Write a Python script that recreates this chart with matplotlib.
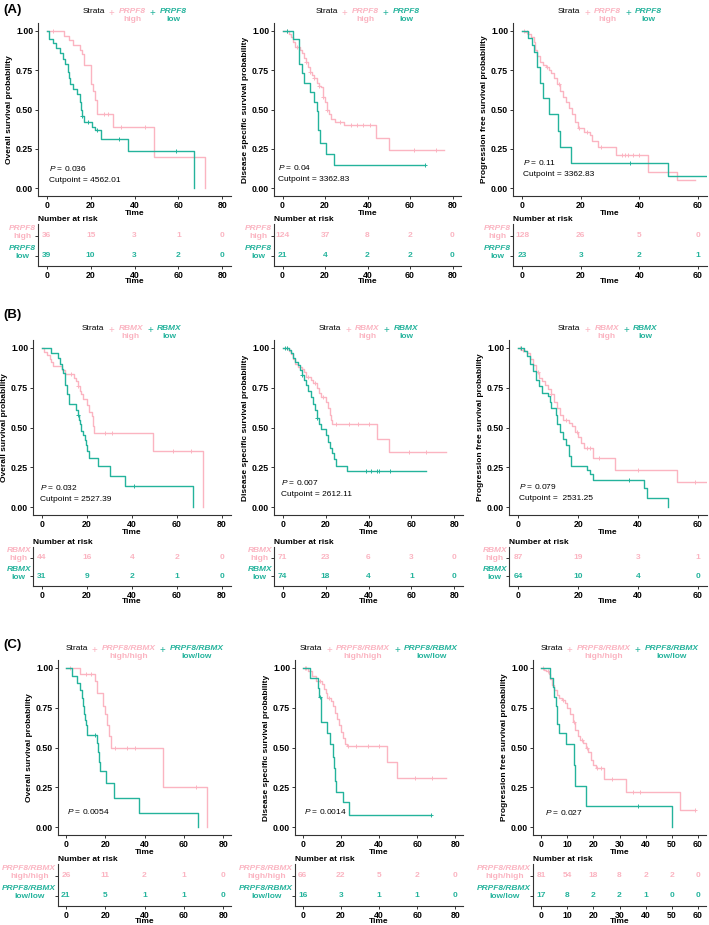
import matplotlib
matplotlib.use("Agg")
import matplotlib.pyplot as plt
import numpy as np
from matplotlib.offsetbox import TextArea, HPacker, VPacker, AnchoredOffsetbox

plt.rcParams['font.family'] = ['Liberation Sans', 'DejaVu Sans']
plt.rcParams['mathtext.fontset'] = 'custom'
plt.rcParams['mathtext.rm'] = 'Liberation Sans'
plt.rcParams['mathtext.it'] = 'Liberation Sans:italic'

PINK = '#FBB4C1'
GREEN = '#24B39C'

# ---------------- survival curves (event times, survival after step) ----------------
# (A) PRPF8
A1_hi_t = [8, 10, 12, 15, 16, 17, 20, 21, 22, 23, 30, 49, 72]
A1_hi_s = [0.97, 0.94, 0.91, 0.88, 0.85, 0.78, 0.66, 0.62, 0.56, 0.47, 0.39, 0.195, 0.0]
A1_hi_c = [3, 26, 28, 34, 45]
A1_lo_t = [1, 3, 4, 6, 7.5, 8.5, 9.5, 10, 10.5, 12, 14, 15, 15.5, 16, 17, 20.5, 22, 24.5, 37, 67]
A1_lo_s = [0.95, 0.92, 0.89, 0.86, 0.82, 0.79, 0.74, 0.70, 0.66, 0.63, 0.60, 0.55, 0.50, 0.46, 0.42,
           0.39, 0.37, 0.31, 0.235, 0.0]
A1_lo_c = [16, 19, 23, 33, 59]

A2_hi_t = [3, 4, 5, 6, 8, 9, 10, 11, 12, 13, 14, 15, 16, 17, 18, 19, 20, 21, 22, 23, 24.5, 29, 44, 50, 76]
A2_hi_s = [0.98, 0.96, 0.93, 0.90, 0.88, 0.86, 0.83, 0.80, 0.77, 0.74, 0.72, 0.70, 0.67, 0.65, 0.64,
           0.58, 0.55, 0.50, 0.47, 0.44, 0.42, 0.40, 0.32, 0.24, 0.24]
A2_hi_c = [2, 7, 11, 13, 15, 17, 19, 21, 27, 32, 35, 38, 41, 62, 72]
A2_lo_t = [5, 7.7, 9, 10, 13, 15, 16, 16.5, 17.5, 20.5, 24, 67]
A2_lo_s = [0.95, 0.79, 0.73, 0.667, 0.61, 0.55, 0.49, 0.37, 0.29, 0.22, 0.15, 0.15]
A2_lo_c = [2, 67]

A3_hi_t = [1, 2, 3, 4, 4.5, 5, 6, 7, 8, 9, 10, 11, 12, 13, 14, 15, 16, 17, 18, 19, 21, 23, 24, 26,
           32, 43, 53, 59]
A3_hi_s = [0.99, 0.98, 0.96, 0.93, 0.88, 0.84, 0.80, 0.78, 0.77, 0.75, 0.73, 0.70, 0.66, 0.62, 0.58,
           0.55, 0.51, 0.47, 0.42, 0.38, 0.36, 0.34, 0.30, 0.26, 0.21, 0.10, 0.05, 0.05]
A3_hi_c = [0.5, 1.5, 8.5, 12.5, 19.5, 22, 27, 34, 35, 36, 38, 40]
A3_lo_t = [2, 3.5, 4, 5, 6, 7, 9.3, 12.3, 13, 16.7, 49.8, 63]
A3_lo_s = [0.955, 0.91, 0.865, 0.77, 0.67, 0.575, 0.47, 0.365, 0.26, 0.16, 0.08, 0.08]
A3_lo_c = [37]

# (B) RBMX
B1_hi_t = [1, 2, 3.5, 4, 5, 9, 10, 14, 15, 16, 17, 17.5, 18, 20, 21, 22, 22.5, 23, 49.5, 71.6]
B1_hi_s = [0.977, 0.955, 0.93, 0.91, 0.885, 0.86, 0.835, 0.81, 0.79, 0.76, 0.73, 0.71, 0.68, 0.64,
           0.60, 0.57, 0.51, 0.467, 0.35, 0.0]
B1_hi_c = [13, 16, 28, 31, 58, 66]
B1_lo_t = [4, 7, 8, 9, 9.5, 10, 11, 12, 15, 16, 16.5, 17, 17.5, 18, 19, 19.5, 20, 21, 25, 30, 37, 67]
B1_lo_s = [0.97, 0.94, 0.90, 0.87, 0.84, 0.77, 0.71, 0.645, 0.61, 0.58, 0.55, 0.52, 0.48, 0.45, 0.42,
           0.39, 0.355, 0.31, 0.26, 0.195, 0.13, 0.0]
B1_lo_c = [16, 41]

B2_hi_t = [3, 4, 5, 6, 7, 9, 10, 11, 13, 14, 16, 17, 18, 20, 21, 22, 22.5, 23, 44, 49.5, 76]
B2_hi_s = [0.98, 0.96, 0.93, 0.90, 0.88, 0.87, 0.85, 0.82, 0.80, 0.78, 0.75, 0.72, 0.69, 0.66, 0.62,
           0.58, 0.55, 0.52, 0.43, 0.345, 0.345]
B2_hi_c = [2, 12, 15, 19, 25, 31, 35, 40, 59, 67]
B2_lo_t = [3, 4, 5, 6, 7, 8, 9, 10, 11, 12, 13, 14, 15, 16, 17, 18, 20, 21, 22, 23, 24, 25, 30, 67]
B2_lo_s = [0.99, 0.97, 0.94, 0.91, 0.89, 0.86, 0.83, 0.80, 0.77, 0.73, 0.69, 0.65, 0.61, 0.56, 0.52,
           0.49, 0.45, 0.41, 0.37, 0.34, 0.30, 0.26, 0.225, 0.225]
B2_lo_c = [1, 2, 9, 16, 39, 41, 44, 45, 50]

B3_hi_t = [1, 2, 3, 4, 5, 6, 7, 8, 9, 10, 11, 12, 13, 14, 15, 17, 18, 19, 20, 21, 22, 25, 32.5, 53, 63]
B3_hi_s = [0.99, 0.98, 0.97, 0.93, 0.89, 0.85, 0.81, 0.79, 0.77, 0.74, 0.71, 0.66, 0.62, 0.58, 0.55,
           0.53, 0.51, 0.47, 0.44, 0.40, 0.37, 0.31, 0.23, 0.155, 0.155]
B3_hi_c = [0.5, 1.5, 6.5, 11, 16, 19.5, 23, 24, 27, 40, 59]
B3_lo_t = [2, 3, 4, 5, 6, 7, 8, 10, 10.5, 11, 12.5, 13, 14, 15, 16, 17, 17.5, 23, 24, 25, 42, 43, 50]
B3_lo_s = [0.98, 0.95, 0.90, 0.855, 0.80, 0.76, 0.72, 0.70, 0.66, 0.62, 0.58, 0.52, 0.47, 0.43, 0.39,
           0.32, 0.255, 0.23, 0.21, 0.17, 0.12, 0.06, 0.0]
B3_lo_c = [1, 37]

# (C) PRPF8/RBMX
C1_hi_t = [7, 15, 16, 19, 20, 21, 22, 23, 49.5, 72]
C1_hi_s = [0.96, 0.92, 0.84, 0.76, 0.71, 0.64, 0.57, 0.50, 0.25, 0.0]
C1_hi_c = [2, 10, 13, 25, 31, 35, 66]
C1_lo_t = [3, 5.5, 7, 8, 8.5, 9, 9.5, 10, 11, 16, 16.5, 17, 17.5, 20.5, 24.5, 37, 67]
C1_lo_s = [0.95, 0.905, 0.86, 0.81, 0.76, 0.71, 0.67, 0.64, 0.58, 0.53, 0.47, 0.41, 0.35, 0.28,
           0.185, 0.09, 0.0]
C1_lo_c = [15]

C2_hi_t = [3, 5, 7, 10, 11, 12, 13, 15, 16, 17, 18, 19, 20, 21, 22, 23, 44, 49.5, 75]
C2_hi_s = [0.98, 0.95, 0.92, 0.90, 0.87, 0.84, 0.81, 0.79, 0.76, 0.72, 0.68, 0.64, 0.60, 0.56, 0.52,
           0.51, 0.41, 0.31, 0.31]
C2_hi_c = [1, 2, 9, 14, 24, 28, 34, 40, 59, 68]
C2_lo_t = [4, 8, 8.5, 9.5, 13, 14.5, 16, 16.5, 17, 17.5, 21, 24.5, 67]
C2_lo_s = [0.935, 0.875, 0.816, 0.663, 0.59, 0.52, 0.44, 0.37, 0.29, 0.222, 0.155, 0.075, 0.075]
C2_lo_c = [9, 67]

C3_hi_t = [1, 2, 3, 3.5, 4, 5, 6, 7, 8, 9, 10, 11, 12, 13, 14, 15, 16, 17, 18, 19, 20, 21, 24, 32.5,
           53, 59]
C3_hi_s = [0.99, 0.98, 0.96, 0.93, 0.89, 0.86, 0.83, 0.81, 0.80, 0.78, 0.75, 0.71, 0.66, 0.61, 0.57,
           0.55, 0.53, 0.50, 0.47, 0.42, 0.39, 0.37, 0.305, 0.22, 0.11, 0.11]
C3_hi_c = [0.5, 2.5, 8.5, 12.5, 15.5, 17.5, 21.5, 23, 27, 35, 38, 59]
C3_lo_t = [3.5, 4.5, 5, 5.5, 6, 7, 9.5, 12.5, 13, 17, 50]
C3_lo_s = [0.94, 0.88, 0.82, 0.76, 0.65, 0.59, 0.523, 0.39, 0.26, 0.13, 0.0]
C3_lo_c = [37]

# ---------------- number at risk ----------------
risk_x80 = [0, 20, 40, 60, 80]
risk_x60 = [0, 20, 40, 60]
risk_x60b = [0, 10, 20, 30, 40, 50, 60]
A1_risk = ([36, 15, 3, 1, 0], [39, 10, 3, 2, 0])
A2_risk = ([124, 37, 8, 2, 0], [21, 4, 2, 2, 0])
A3_risk = ([128, 26, 5, 0], [23, 3, 2, 1])
B1_risk = ([44, 16, 4, 2, 0], [31, 9, 2, 1, 0])
B2_risk = ([71, 23, 6, 3, 0], [74, 18, 4, 1, 0])
B3_risk = ([87, 19, 3, 1], [64, 10, 4, 0])
C1_risk = ([26, 11, 2, 1, 0], [21, 5, 1, 1, 0])
C2_risk = ([66, 22, 5, 2, 0], [16, 3, 1, 1, 0])
C3_risk = ([81, 54, 18, 8, 2, 2, 0], [17, 8, 2, 2, 1, 0, 0])

ylabels = ['Overall survival probability', 'Disease specific survival probability',
           'Progression free survival probability']
genes = ['PRPF8', 'RBMX', 'PRPF8/RBMX']
levels = [('high', 'low'), ('high', 'low'), ('high/high', 'low/low')]
pvals = [['0.036', '0.04', '0.11'], ['0.032', '0.007', '0.079'], ['0.0054', '0.0014', '0.027']]
cutpoints = [['4562.01', '3362.83', '3362.83'], ['2527.39', '2612.11', ' 2531.25'], [None, None, None]]

# ---------------- layout (pixels) ----------------
W, H = 709, 925
cols = [[(38, 231), (274, 461), (513, 707)],
        [(33, 231), (274, 463), (509, 707)],
        [(58, 231), (295, 463), (533, 706)]]
main_tb = [(23, 196), (340, 515), (660, 835)]
tab_tb = [(224, 266), (547, 586), (864, 906)]
p_xy = [[(1, 0.125), (-2, 0.13), (0.2, 0.16)],
        [(-0.7, 0.12), (-0.7, 0.155), (0.3, 0.13)],
        [(0.8, 0.096), (0.7, 0.10), (1.3, 0.092)]]
letters = [('(A)', 10), ('(B)', 315), ('(C)', 645)]

curves = [[(A1_hi_t, A1_hi_s, A1_hi_c, A1_lo_t, A1_lo_s, A1_lo_c, A1_risk),
           (A2_hi_t, A2_hi_s, A2_hi_c, A2_lo_t, A2_lo_s, A2_lo_c, A2_risk),
           (A3_hi_t, A3_hi_s, A3_hi_c, A3_lo_t, A3_lo_s, A3_lo_c, A3_risk)],
          [(B1_hi_t, B1_hi_s, B1_hi_c, B1_lo_t, B1_lo_s, B1_lo_c, B1_risk),
           (B2_hi_t, B2_hi_s, B2_hi_c, B2_lo_t, B2_lo_s, B2_lo_c, B2_risk),
           (B3_hi_t, B3_hi_s, B3_hi_c, B3_lo_t, B3_lo_s, B3_lo_c, B3_risk)],
          [(C1_hi_t, C1_hi_s, C1_hi_c, C1_lo_t, C1_lo_s, C1_lo_c, C1_risk),
           (C2_hi_t, C2_hi_s, C2_hi_c, C2_lo_t, C2_lo_s, C2_lo_c, C2_risk),
           (C3_hi_t, C3_hi_s, C3_hi_c, C3_lo_t, C3_lo_s, C3_lo_c, C3_risk)]]

FS = 6.0
TICK_FS = 6.3


def rect(l, r, t, b):
    return [l / W, 1 - b / H, (r - l) / W, (b - t) / H]


def style_axes(ax):
    for s in ['top', 'right']:
        ax.spines[s].set_visible(False)
    for s in ['left', 'bottom']:
        ax.spines[s].set_linewidth(0.8)
        ax.spines[s].set_color('#333333')
    ax.tick_params(length=2, width=0.7, pad=1.5, labelsize=TICK_FS, color='#333333')
    for lab in ax.get_xticklabels() + ax.get_yticklabels():
        lab.set_fontweight('bold')


def km(ax, t, s, cens, color):
    tt = np.r_[0, t]
    ss = np.r_[1, s]
    ax.step(tt, ss, where='post', color=color, lw=1.0)
    idx = np.searchsorted(tt, cens, side='right') - 1
    ax.plot(cens, ss[idx], '+', color=color, ms=3.2, mew=0.7)


def strata_box(gene, level, color, fs):
    return VPacker(children=[TextArea(gene, textprops=dict(color=color, fontsize=fs, fontstyle='italic',
                                                           fontweight='bold')),
                             TextArea(level, textprops=dict(color=color, fontsize=fs, fontweight='bold'))],
                   align='center', pad=0, sep=0.5)


fig = plt.figure(figsize=(W / 100, H / 100), dpi=100)

for r in range(3):
    gene = genes[r]
    lv_hi, lv_lo = levels[r]
    for c in range(3):
        hi_t, hi_s, hi_c, lo_t, lo_s, lo_c, risk = curves[r][c]
        l, rr = cols[r][c]
        if c == 2 and r < 2:
            xlim, xticks, rx = (-3.15, 63.15), [0, 20, 40, 60], risk_x60
        elif c == 2:
            xlim, xticks, rx = (-3.15, 63.15), list(range(0, 61, 10)), risk_x60b
        else:
            xlim, xticks, rx = (-4, 84), [0, 20, 40, 60, 80], risk_x80

        ax = fig.add_axes(rect(l, rr, *main_tb[r]))
        km(ax, hi_t, hi_s, hi_c, PINK)
        km(ax, lo_t, lo_s, lo_c, GREEN)
        ax.set_xlim(*xlim)
        ax.set_ylim(-0.05, 1.05)
        ax.set_xticks(xticks)
        ax.set_yticks([0, 0.25, 0.5, 0.75, 1.0])
        ax.set_yticklabels(['0.00', '0.25', '0.50', '0.75', '1.00'])
        style_axes(ax)
        ax.set_xlabel('Time', fontsize=FS, fontweight='bold', labelpad=0)
        ax.set_ylabel(ylabels[c], fontsize=FS, fontweight='bold', labelpad=2)

        px, py = p_xy[r][c]
        ax.text(px, py, r'$P$ = ' + pvals[r][c], fontsize=FS, ha='left', va='center')
        if cutpoints[r][c] is not None:
            ax.text(px, py - 0.075, 'Cutpoint = ' + cutpoints[r][c], fontsize=FS, ha='left', va='center')

        # legend on top
        leg = HPacker(children=[TextArea('Strata', textprops=dict(fontsize=FS)),
                                TextArea('+', textprops=dict(color=PINK, fontsize=FS + 1)),
                                strata_box(gene, lv_hi, PINK, FS),
                                TextArea('+', textprops=dict(color=GREEN, fontsize=FS + 1)),
                                strata_box(gene, lv_lo, GREEN, FS)],
                      align='top', pad=0, sep=3)
        ab = AnchoredOffsetbox(loc='lower center', child=leg, pad=0, borderpad=0, frameon=False,
                               bbox_to_anchor=(0.5, 1.0), bbox_transform=ax.transAxes)
        ax.add_artist(ab)

        # risk table
        tb = fig.add_axes(rect(l, rr, *tab_tb[r]))
        tb.set_xlim(*xlim)
        tb.set_ylim(0, 1)
        for vals, yy, col in [(risk[0], 0.72, PINK), (risk[1], 0.25, GREEN)]:
            for xv, v in zip(rx, vals):
                tb.text(xv, yy, str(v), color=col, fontsize=FS, fontweight='bold', ha='center', va='center')
        tb.set_xticks(xticks)
        tb.set_yticks([0.72, 0.25])
        tb.set_yticklabels(['', ''])
        style_axes(tb)
        tb.set_xlabel('Time', fontsize=FS, fontweight='bold', labelpad=-1)
        tb.set_title('Number at risk', loc='left', fontsize=FS, fontweight='bold', pad=2)
        for lv, yy, col in [(lv_hi, 0.80, PINK), (lv_lo, 0.32, GREEN)]:
            lb = AnchoredOffsetbox(loc='center right', child=strata_box(gene, lv, col, FS), pad=0,
                                   borderpad=0, frameon=False, bbox_to_anchor=(-0.01, yy),
                                   bbox_transform=tb.transAxes)
            tb.add_artist(lb)

for txt, yp in letters:
    fig.text(3 / W, 1 - yp / H, txt, fontsize=9.5, fontweight='bold', ha='left', va='center')

fig.savefig('out.png', dpi=100)
